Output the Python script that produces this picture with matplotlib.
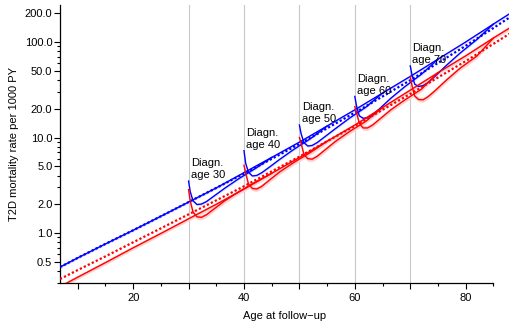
import numpy as np
import matplotlib
matplotlib.use("Agg")
import matplotlib.pyplot as plt

plt.rcParams['font.family'] = ['Liberation Sans', 'DejaVu Sans']

# general lines (rates per 1000 PY) at these ages
ages = [6.8, 10, 15, 20, 25, 30, 35, 40, 45, 50, 55, 60, 65, 70, 75, 80, 85, 88]
blue_dotted = [0.44, 0.55, 0.77, 1.07, 1.50, 2.11, 2.97, 4.19, 5.98, 8.55, 12.5, 18.2, 26.9, 39.8, 60.3, 91.2, 140, 182]
blue_solid = [0.44, 0.55, 0.77, 1.07, 1.50, 2.11, 2.97, 4.29, 6.19, 8.95, 13.2, 19.5, 29.2, 43.6, 66.1, 100, 154, 199]
red_dotted = [0.33, 0.41, 0.57, 0.80, 1.12, 1.57, 2.20, 3.09, 4.42, 6.31, 9.14, 13.2, 19.5, 28.6, 42.5, 63.1, 95.5, 123]
red_solid = [0.275, 0.345, 0.49, 0.70, 0.99, 1.41, 2.00, 2.88, 4.22, 6.17, 9.14, 13.5, 20.6, 31.3, 47.7, 71.6, 110, 141]

# curves after diagnosis: years since diagnosis and rates
diag_ages = [30, 40, 50, 60, 70]
since_diag = [0, 0.3, 0.8, 1.5, 2.3, 3.2, 4.5, 6.5, 9, 12, 15]
b30 = [3.50, 2.71, 2.18, 1.99, 2.01, 2.13, 2.42, 2.94, 3.69, 4.72, 6.19]
b40 = [7.28, 5.38, 4.34, 3.96, 4.01, 4.28, 4.86, 5.94, 7.52, 9.73, 13.2]
b50 = [13.5, 11.0, 8.87, 8.15, 8.26, 8.85, 10.1, 12.4, 15.9, 20.8, 29.2]
b60 = [26.9, 21.4, 16.9, 15.9, 16.1, 17.3, 20.1, 25.8, 34.0, 45.9, 66.1]
b70 = [56.2, 45.8, 36.2, 34.2, 34.9, 37.6, 43.9, 56.8, 76.6, 106, 154]
r30 = [2.85, 2.16, 1.66, 1.48, 1.46, 1.55, 1.77, 2.17, 2.69, 3.40, 4.22]
r40 = [5.13, 4.26, 3.27, 2.93, 2.89, 3.08, 3.55, 4.39, 5.48, 6.98, 9.14]
r50 = [10.0, 8.71, 6.70, 6.00, 5.94, 6.35, 7.33, 9.10, 11.5, 14.8, 20.6]
r60 = [21.0, 18.3, 14.1, 12.6, 12.6, 13.5, 15.6, 19.5, 24.7, 32.0, 47.7]
r70 = [43.3, 35.2, 27.2, 25.0, 24.8, 26.7, 31.0, 39.8, 53.2, 71.1, 110]
blue_diag = [b30, b40, b50, b60, b70]
red_diag = [r30, r40, r50, r60, r70]

fig = plt.figure(figsize=(5.1, 3.23), dpi=100)
ax = fig.add_axes([60/510, 40/323, 450/510, 278/323])

for a in diag_ages:
    ax.axvline(a, color='#c8c8c8', lw=0.8, zorder=0)

# confidence bands
ys = np.array(red_solid)
ax.fill_between(ages, ys/1.05, ys*1.05, color='#ffd0d0', lw=0, zorder=1)
ys = np.array(blue_solid)
ax.fill_between(ages, ys/1.03, ys*1.03, color='#dde0ff', lw=0, zorder=1)
for a, yb, yr in zip(diag_ages, blue_diag, red_diag):
    xs = a + np.array(since_diag)
    yb = np.array(yb)
    yr = np.array(yr)
    ax.fill_between(xs, yb/1.03, yb*1.03, color='#dde0ff', lw=0, zorder=1)
    ax.fill_between(xs, yr/1.06, yr*1.06, color='#ffd0d0', lw=0, zorder=1)

ax.plot(ages, blue_solid, color='blue', lw=1.0, zorder=3)
ax.plot(ages, blue_dotted, color='blue', lw=1.6, ls=(0, (1, 1)), zorder=3)
for a, yb in zip(diag_ages, blue_diag):
    ax.plot(a + np.array(since_diag), yb, color='blue', lw=1.0, zorder=3)

ax.plot(ages, red_solid, color='red', lw=1.0, zorder=4)
ax.plot(ages, red_dotted, color='red', lw=1.6, ls=(0, (1, 1)), zorder=4)
for a, yr in zip(diag_ages, red_diag):
    ax.plot(a + np.array(since_diag), yr, color='red', lw=1.0, zorder=4)

for a, yb in zip(diag_ages, blue_diag):
    ax.text(a + 0.4, yb[0] * 1.02, 'Diagn.\nage %d' % a, fontsize=8,
            ha='left', va='bottom', linespacing=1.25)

ax.set_yscale('log')
ax.set_xlim(6.8, 88)
ax.set_ylim(0.302, 244)

yt = [0.5, 1, 2, 5, 10, 20, 50, 100, 200]
ax.set_yticks(yt)
ax.set_yticklabels(['%.1f' % v for v in yt])
ax.set_yticks([0.3, 0.4, 0.6, 0.7, 0.8, 0.9, 3, 4, 6, 7, 8, 9,
               30, 40, 60, 70, 80, 90], minor=True)
ax.yaxis.set_minor_formatter(plt.NullFormatter())
ax.set_xticks([10, 20, 30, 40, 50, 60, 70, 80])
ax.set_xticklabels(['', '20', '', '40', '', '60', '', '80'])
ax.set_xticks([15, 25, 35, 45, 55, 65, 75, 85], minor=True)

ax.tick_params(which='major', length=4, width=0.8, labelsize=8, pad=1.5, colors='black')
ax.tick_params(which='minor', length=2.2, width=0.8)
ax.tick_params(axis='x', which='major', pad=3)

for s in ['top', 'right']:
    ax.spines[s].set_visible(False)
ax.spines['bottom'].set_bounds(6.8, 85)
ax.spines['left'].set_linewidth(0.9)
ax.spines['bottom'].set_linewidth(0.9)

ax.set_xlabel('Age at follow\u2212up', fontsize=8, labelpad=6)
ax.set_ylabel('T2D mortality rate per 1000 PY', fontsize=8, labelpad=4)

fig.savefig('out.png', dpi=100)
